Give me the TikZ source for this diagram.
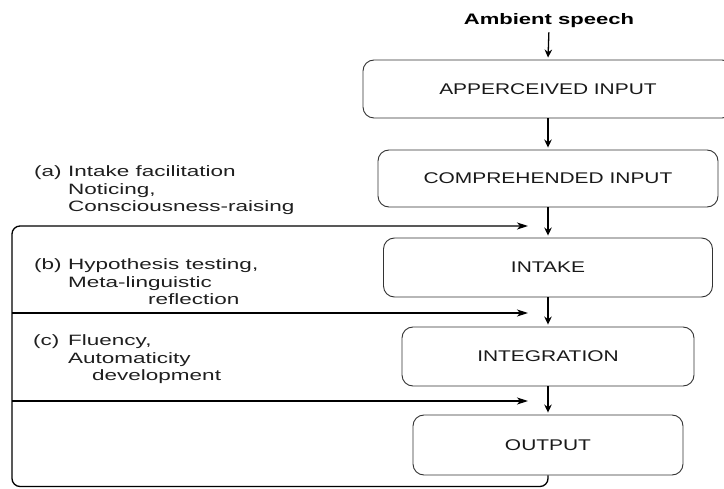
\documentclass[tikz,border=0pt]{standalone}
\usepackage{fontspec}
\usetikzlibrary{arrows.meta}
\newfontfamily\lblfont[FakeStretch=1.5]{Liberation Sans}
\newfontfamily\boxfont[FakeStretch=1.35]{Liberation Sans}
\newfontfamily\ambfont[FakeStretch=1.45]{Liberation Sans}
\begin{document}
\begin{tikzpicture}[x=1pt,y=-1pt,
  stagebox/.style={draw=black!80, line width=0.9pt, rounded corners=11pt, inner sep=0pt,
    text=black!90, font=\boxfont\fontsize{15.5}{18}\selectfont},
  lbl/.style={inner sep=0pt, anchor=base west, text=black!88,
    font=\lblfont\fontsize{15}{17.5}\selectfont},
  varrow/.style={line width=1.3pt, -{Stealth[length=8pt,width=7.5pt]}},
  harrow/.style={line width=1.2pt, -{Stealth[length=11pt,width=7pt,inset=3pt]}},
  loopline/.style={line width=1.3pt, rounded corners=8pt, -{Stealth[length=11pt,width=7pt,inset=3pt]}}
]
\clip (0,0) rectangle (724,489);
\fill[white] (0,0) rectangle (724,489);

% stages
\node[inner sep=0pt, anchor=base, font=\ambfont\bfseries\fontsize{15.2}{18}\selectfont] (amb) at (549,25) {Ambient speech};
\node[stagebox, minimum width=370pt, minimum height=58pt] (ap) at (548,89) {APPERCEIVED INPUT};
\node[stagebox, minimum width=340pt, minimum height=57pt] (co) at (548,178.5) {COMPREHENDED INPUT};
\node[stagebox, minimum width=329pt, minimum height=59pt] (in) at (548,267.5) {INTAKE};
\node[stagebox, minimum width=292pt, minimum height=59pt] (ig) at (548,356.5) {INTEGRATION};
\node[stagebox, minimum width=270pt, minimum height=60pt] (ou) at (548,445) {OUTPUT};

% vertical flow
\draw[varrow, shorten <=4pt, shorten >=2pt] (amb.south) -- (ap.north);
\draw[varrow, shorten >=2pt] (ap.south) -- (co.north);
\draw[varrow, shorten >=2pt] (co.south) -- (in.north);
\draw[varrow, shorten >=2pt] (in.south) -- (ig.north);
\draw[varrow, shorten >=2pt] (ig.south) -- (ou.north);

% feedback loop coordinates
\coordinate (br) at (548,486.5);
\coordinate (bl) at (12,486.5);
\coordinate (tl) at (12,226);
\coordinate (ta) at (528,226);
\coordinate (lb) at (12,313);
\coordinate (tb) at (528,313);
\coordinate (lc) at (12,401);
\coordinate (tc) at (528,401);

\draw[loopline] (ou.south) -- (br) -- (bl) -- (tl) -- (ta);
\draw[harrow] (lb) -- (tb);
\draw[harrow] (lc) -- (tc);

% labels
\node[lbl] (labA) at (34,177) {(a)};
\node[lbl] (txtA) at (68,177) {\vtop{\hbox{Intake facilitation}\hbox{Noticing,}\hbox{Consciousness-raising}}};
\node[lbl] (labB) at (34,270) {(b)};
\node[lbl] (txtB) at (68,270) {\vtop{\hbox{Hypothesis testing,}\hbox{Meta-linguistic}\hbox{\hskip80pt reflection}}};
\node[lbl] (labC) at (33,346) {(c)};
\node[lbl] (txtC) at (68,346) {\vtop{\hbox{Fluency,}\hbox{Automaticity}\hbox{\hskip24pt development}}};
\end{tikzpicture}
\end{document}
